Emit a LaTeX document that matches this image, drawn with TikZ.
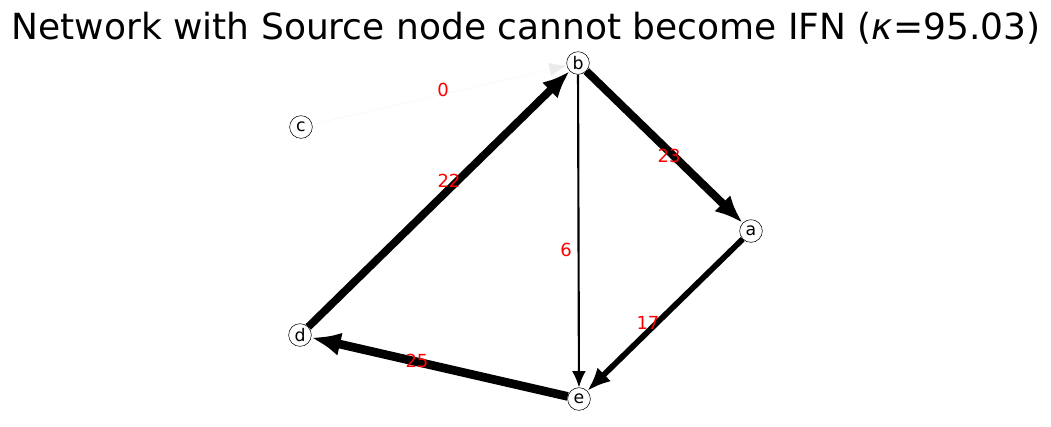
\documentclass[tikz,border=0pt]{standalone}
\usepackage{fontspec}
\setmainfont{DejaVu Sans}
\usetikzlibrary{arrows.meta}
\begin{document}
\begin{tikzpicture}[x=0.75pt,y=-0.75pt,
    vertex/.style={circle,draw,thin,fill=white,inner sep=0pt,minimum size=17pt,font=\fontsize{13}{13}\selectfont},
    wlabel/.style={text=red,font=\fontsize{13.5}{13.5}\selectfont},
    flow/.style={-{Latex[length=#1*2pt+9pt,width=#1*1.5pt+8pt]},line width=#1 pt}]
    \useasboundingbox (0,0) rectangle (1051,426);
    % Title
    \node (title) at (526,28) {\fontsize{27}{27}\selectfont Network with Source node cannot become IFN (\textit{κ}=95.03)};
    % Nodes
    \node[vertex] (b) at (578,63) {b};
    \node[vertex] (c) at (301,127) {c};
    \node[vertex] (a) at (751,231) {a};
    \node[vertex] (d) at (300,335) {d};
    \node[vertex] (e) at (579,399) {e};
    % Edges
    \draw[-{Latex[length=13pt,width=10pt]},line width=0.1pt,black!8] (c) -- (b);
    \draw[flow=5.8] (d) -- (b);
    \draw[flow=6] (b) -- (a);
    \draw[flow=1.6] (b) -- (e);
    \draw[flow=4.3] (a) -- (e);
    \draw[flow=6.5] (e) -- (d);
    % Weights
    \node[wlabel] (w0) at (443,90) {0};
    \node[wlabel] (w22) at (449,181) {22};
    \node[wlabel] (w23) at (669,156) {23};
    \node[wlabel] (w6) at (566,250) {6};
    \node[wlabel] (w17) at (648,323) {17};
    \node[wlabel] (w25) at (417,361) {25};
\end{tikzpicture}
\end{document}
